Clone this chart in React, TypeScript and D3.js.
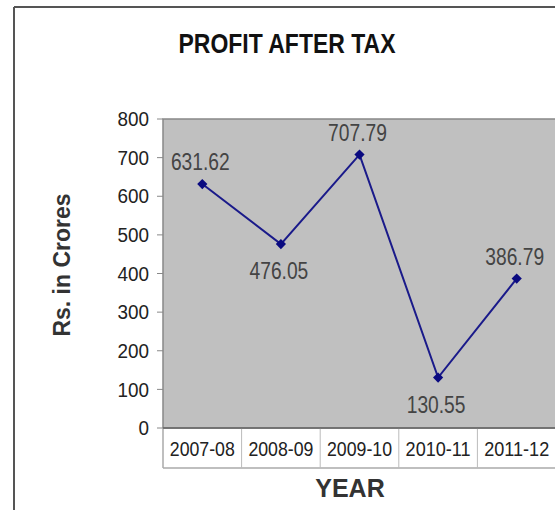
import React from "react";
import * as d3 from "d3";

const categories = ["2007-08", "2008-09", "2009-10", "2010-11", "2011-12"];
const values = [631.62, 476.05, 707.79, 130.55, 386.79];
const yTicks = [0, 100, 200, 300, 400, 500, 600, 700, 800];

const W = 555;
const H = 510;
const plotLeft = 163;
const plotRight = 556;
const plotTop = 119;
const plotBottom = 428;
const tableBottom = 468;

export default function App() {
  const x = d3.scaleBand<string>().domain(categories).range([plotLeft, plotRight]);
  const y = d3.scaleLinear().domain([0, 800]).range([plotBottom, plotTop]);
  const pts = categories.map((c, i) => ({ c, v: values[i], px: (x(c) as number) + x.bandwidth() / 2, py: y(values[i]) }));
  const line = d3.line<{ px: number; py: number }>().x((d) => d.px).y((d) => d.py);
  const font = "'Liberation Sans', Arial, sans-serif";
  const marker = d3.symbol().type(d3.symbolSquare).size(52)() as string;

  return (
    <svg width={W} height={H} style={{ position: "fixed", left: 0, top: 0, background: "#fff" }} fontFamily={font}>
      <rect x={0} y={0} width={W} height={H} fill="#fff" />
      {/* outer frame */}
      <line x1={14} y1={7} x2={14} y2={H} stroke="#555" strokeWidth={2} />
      <line x1={14} y1={7} x2={W} y2={7} stroke="#555" strokeWidth={2} />
      {/* title */}
      <text x={287} y={53} textAnchor="middle" fontSize={28} fontWeight="bold" fill="#111" textLength={217} lengthAdjust="spacingAndGlyphs">
        PROFIT AFTER TAX
      </text>
      {/* plot area */}
      <rect x={plotLeft} y={plotTop} width={plotRight - plotLeft} height={plotBottom - plotTop} fill="#c0c0c0" stroke="#888" strokeWidth={1.5} />
      {/* y ticks */}
      {yTicks.map((t) => (
        <g key={t}>
          <line x1={157} x2={plotLeft} y1={y(t)} y2={y(t)} stroke="#888" strokeWidth={1} />
          <text x={149} y={y(t)} dy="0.36em" textAnchor="end" fontSize={20} fill="#222" textLength={String(t).length * 10.5} lengthAdjust="spacingAndGlyphs">
            {t}
          </text>
        </g>
      ))}
      {/* category table */}
      <line x1={plotLeft} x2={plotRight} y1={tableBottom} y2={tableBottom} stroke="#aaa" strokeWidth={1.5} />
      <line x1={plotLeft} x2={plotLeft} y1={plotBottom} y2={tableBottom} stroke="#aaa" strokeWidth={1.5} />
      {categories.map((c) => (
        <g key={c}>
          <line x1={(x(c) as number) + x.bandwidth()} x2={(x(c) as number) + x.bandwidth()} y1={plotBottom} y2={tableBottom} stroke="#bbb" strokeWidth={1} />
          <text x={(x(c) as number) + x.bandwidth() / 2} y={456} textAnchor="middle" fontSize={20} fill="#222" textLength={65} lengthAdjust="spacingAndGlyphs">
            {c}
          </text>
        </g>
      ))}
      <line x1={plotLeft} x2={plotRight} y1={plotBottom} y2={plotBottom} stroke="#666" strokeWidth={1.5} />
      {/* series */}
      <path d={line(pts) as string} fill="none" stroke="#1a1a8a" strokeWidth={2} />
      {pts.map((p) => (
        <path key={p.c} d={marker} transform={`translate(${p.px},${p.py}) rotate(45)`} fill="#0a0a80" />
      ))}
      {pts.map((p, i) => {
        const prev = i > 0 ? values[i - 1] : -Infinity;
        const next = i < values.length - 1 ? values[i + 1] : -Infinity;
        const below = p.v < prev && p.v < next && i > 0 && i < values.length - 1;
        return (
          <text key={"l" + p.c} x={p.px - 2} y={below ? p.py + 35 : p.py - 14} textAnchor="middle" fontSize={23} fill="#444" textLength={p.v.toFixed(2).length * 9.8} lengthAdjust="spacingAndGlyphs">
            {p.v.toFixed(2)}
          </text>
        );
      })}
      {/* axis titles */}
      <text transform="translate(70,265) rotate(-90)" textAnchor="middle" fontSize={23} fontWeight="bold" fill="#333">
        Rs. in Crores
      </text>
      <text x={350} y={497} textAnchor="middle" fontSize={25} fontWeight="bold" fill="#333">
        YEAR
      </text>
    </svg>
  );
}
